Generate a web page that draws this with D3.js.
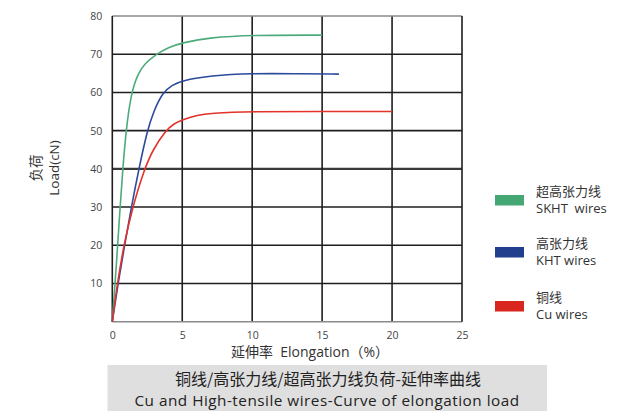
<!DOCTYPE html>
<html>
<head>
<meta charset="utf-8">
<script src="https://cdn.jsdelivr.net/npm/d3@7"></script>
<style>
  html, body { margin: 0; padding: 0; background: #fff; }
  svg { display: block; font-family: "Open Sans", "Noto Sans CJK SC", sans-serif; }
</style>
</head>
<body>
<svg id="chart" width="643" height="411"></svg>
<script>
// Load–elongation curves for three wire grades (elongation %, load cN)
const cuElong   = [0, 0.36, 0.82, 1.45, 2.3, 2.9, 3.8, 4.4, 5, 6, 7, 10, 15, 20];
const cuLoad    = [0, 10, 20, 30, 40, 45, 50, 51.8, 52.8, 54, 54.6, 55, 55, 55];
const khtElong  = [0, 0.41, 0.88, 1.36, 1.9, 2.5, 2.95, 3.6, 4.3, 5, 7, 10, 13, 16.2];
const khtLoad   = [0, 10, 20, 30, 40, 50, 55, 60, 62, 63.1, 64.4, 65, 64.9, 64.8];
const skhtElong = [0, 0.2, 0.38, 0.56, 0.75, 0.98, 1.35, 1.85, 2.3, 3.15, 4, 5, 7, 10, 15];
const skhtLoad  = [0, 10, 20, 30, 40, 50, 60, 65, 67.5, 70, 71.8, 73, 74.4, 75, 75];

const xTicks = [0, 5, 10, 15, 20, 25];
const yTicks = [10, 20, 30, 40, 50, 60, 70, 80];

const seriesNames = ["超高张力线", "高张力线", "铜线"];
const seriesNamesEn = ["SKHT  wires", "KHT wires", "Cu wires"];
const lineColors = ["#4cab7c", "#2b4a9b", "#e3322b"];
const swatchColors = ["#45a874", "#213f8c", "#d9261e"];

const series = [
  skhtElong.map((x, i) => ({x, y: skhtLoad[i]})),
  khtElong.map((x, i) => ({x, y: khtLoad[i]})),
  cuElong.map((x, i) => ({x, y: cuLoad[i]}))
];

const svg = d3.select("#chart");
const plot = {left: 112.3, right: 462, top: 16, bottom: 321.7};

const x = d3.scaleLinear().domain([0, 25]).range([plot.left, plot.right]);
const y = d3.scaleLinear().domain([0, 80]).range([plot.bottom, plot.top]);

// Grid
const grid = svg.append("g");
grid.selectAll("line.h").data(yTicks.filter(v => v < 80)).join("line")
  .attr("x1", plot.left).attr("x2", plot.right)
  .attr("y1", d => y(d)).attr("y2", d => y(d))
  .attr("stroke", d => d === 40 ? "#3a3a3a" : "#1e1e1e")
  .attr("stroke-width", d => d === 40 ? 2.4 : 1.6);
grid.selectAll("line.v").data(xTicks.filter(v => v > 0 && v < 25)).join("line")
  .attr("y1", plot.top).attr("y2", plot.bottom)
  .attr("x1", d => x(d)).attr("x2", d => x(d))
  .attr("stroke", "#1e1e1e").attr("stroke-width", 1.6);

// Frame: top and bottom grey, left and right dark
grid.append("line").attr("x1", plot.left).attr("x2", plot.right)
  .attr("y1", plot.top).attr("y2", plot.top).attr("stroke", "#8a8a8a").attr("stroke-width", 1.6);
grid.append("line").attr("x1", plot.left).attr("x2", plot.right)
  .attr("y1", plot.bottom).attr("y2", plot.bottom).attr("stroke", "#8a8a8a").attr("stroke-width", 1.6);
grid.append("line").attr("x1", plot.left).attr("x2", plot.left)
  .attr("y1", plot.top).attr("y2", plot.bottom).attr("stroke", "#1e1e1e").attr("stroke-width", 1.6);
grid.append("line").attr("x1", plot.right).attr("x2", plot.right)
  .attr("y1", plot.top).attr("y2", plot.bottom).attr("stroke", "#1e1e1e").attr("stroke-width", 1.6);

// Axes (labels only)
const xAxis = d3.axisBottom(x).tickValues(xTicks).tickSize(0).tickPadding(10);
svg.append("g").attr("transform", `translate(0,${plot.bottom})`).call(xAxis)
  .call(g => g.select(".domain").remove())
  .call(g => g.selectAll("text").attr("fill", "#444").attr("font-size", 10.5)
    .attr("font-family", "'Open Sans', sans-serif"));

const yAxis = d3.axisLeft(y).tickValues(yTicks).tickSize(0).tickPadding(10);
svg.append("g").attr("transform", `translate(${plot.left},0)`).call(yAxis)
  .call(g => g.select(".domain").remove())
  .call(g => g.selectAll("text").attr("fill", "#444").attr("font-size", 10.5)
    .attr("font-family", "'Open Sans', sans-serif"));

// Curves (B-spline through the sampled readings)
const line = d3.line().x(d => x(d.x)).y(d => y(d.y)).curve(d3.curveBasis);
svg.append("g").selectAll("path").data(series).join("path")
  .attr("d", line)
  .attr("fill", "none")
  .attr("stroke", (d, i) => lineColors[i])
  .attr("stroke-width", 1.6);

// Axis titles
svg.append("text")
  .attr("x", 231).attr("y", 357).attr("text-anchor", "start")
  .attr("font-size", 14).attr("fill", "#333")
  .attr("xml:space", "preserve").style("white-space", "pre")
  .text("延伸率  Elongation（%）");

const yTitle = svg.append("g").attr("transform", "translate(41,168) rotate(-90)");
yTitle.append("text").attr("x", 0).attr("y", 0).attr("text-anchor", "middle")
  .attr("font-size", 13.5).attr("fill", "#333").attr("font-family", "'Noto Sans CJK SC', sans-serif")
  .text("负荷");
yTitle.append("text").attr("x", 0).attr("y", 18).attr("text-anchor", "middle")
  .attr("font-size", 13.5).attr("fill", "#333")
  .text("Load(cN)");

// Legend
const legendTop = [195, 247, 301];
const legend = svg.append("g");
seriesNames.forEach((name, i) => {
  const ly = legendTop[i];
  legend.append("rect").attr("x", 495).attr("y", ly).attr("width", 29).attr("height", 10.5)
    .attr("fill", swatchColors[i]);
  legend.append("text").attr("x", 536).attr("y", ly + 1).attr("font-size", 13)
    .attr("fill", "#333").attr("font-family", "'Noto Sans CJK SC', sans-serif").text(name);
  legend.append("text").attr("x", 536).attr("y", ly + 18).attr("font-size", 13)
    .attr("fill", "#333").attr("xml:space", "preserve").style("white-space", "pre").text(seriesNamesEn[i]);
});

// Caption banner
svg.append("rect").attr("x", 107.5).attr("y", 365).attr("width", 439.5).attr("height", 46)
  .attr("fill", "#dfdfdf");
svg.append("text").attr("x", 328).attr("y", 384.5).attr("text-anchor", "middle")
  .attr("font-size", 16).attr("fill", "#222").attr("font-family", "'Noto Sans CJK SC', sans-serif")
  .text("铜线/高张力线/超高张力线负荷-延伸率曲线");
svg.append("text").attr("x", 327).attr("y", 405.8).attr("text-anchor", "middle")
  .attr("font-size", 15.3).attr("letter-spacing", 0.5).attr("fill", "#222")
  .text("Cu and High-tensile wires-Curve of elongation load");
</script>
</body>
</html>
